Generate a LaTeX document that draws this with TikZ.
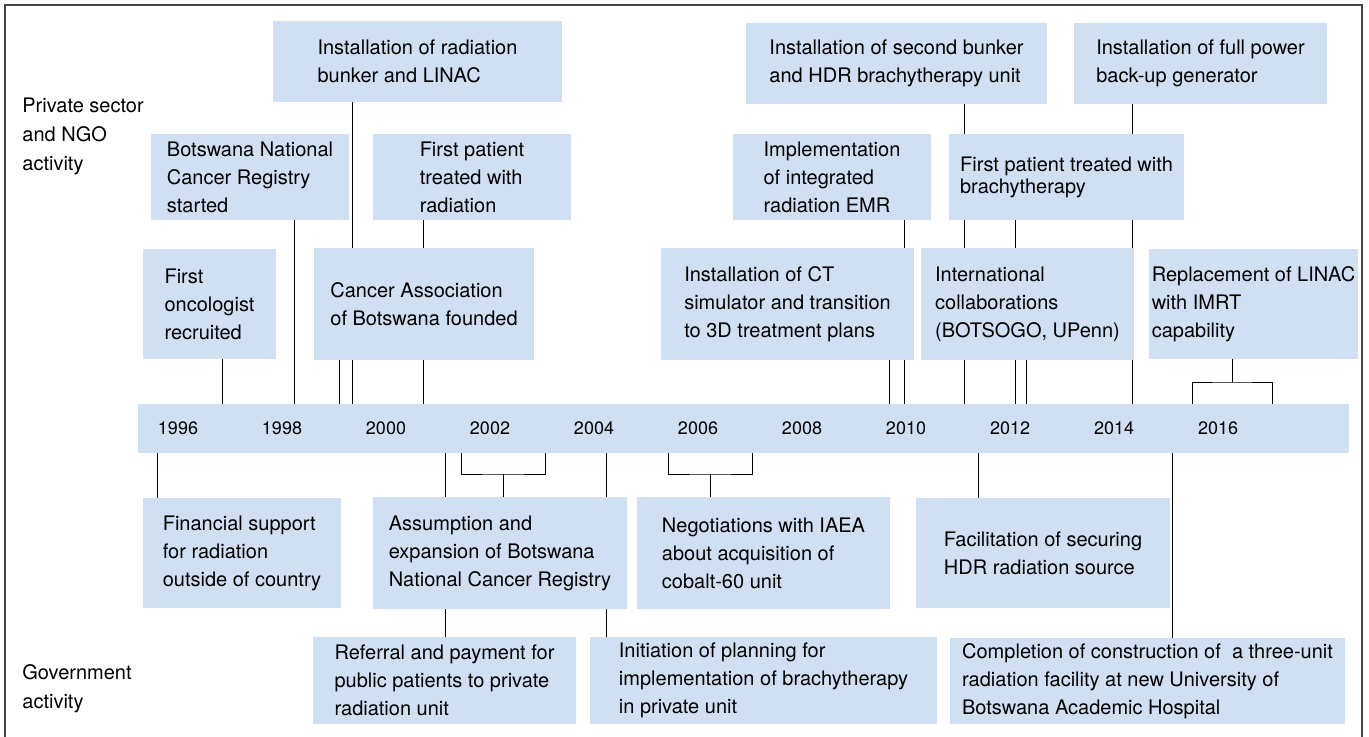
\documentclass[tikz,border=0pt]{standalone}
\usepackage{fontspec}
\setmainfont{TeX Gyre Heros}
\usetikzlibrary{backgrounds}
\definecolor{tlblue}{HTML}{D0DFF1}
\definecolor{tlframe}{HTML}{444444}

\begin{document}
\begin{tikzpicture}[x=0.5pt,y=-0.5pt,
  evt/.style={fill=tlblue,inner sep=0pt,align=left,font=\fontsize{10}{14}\selectfont},
  yrlbl/.style={inner sep=0pt,font=\fontsize{9}{11}\selectfont},
  sidelbl/.style={anchor=west,inner sep=0pt,align=left,font=\fontsize{10}{14.5}\selectfont},
  tick/.style={line width=1.5pt}]
  \useasboundingbox (0,0) rectangle (1369,737);
  \draw[tlframe,line width=0.8pt] (5,737) -- (5,5) -- (1362,5) -- (1362,737);

  \node[sidelbl] (priv) at (22,136) {Private sector\\and NGO\\activity};
  \node[sidelbl] (gov) at (22,688.5) {Government\\activity};

  \node[evt,minimum width=144.5pt,minimum height=40.5pt] (bunker) at (417.5,61.5) {Installation of radiation\\bunker and LINAC};
  \node[evt,minimum width=150.5pt,minimum height=40.5pt] (second) at (896.5,63.5) {Installation of second bunker\\and HDR brachytherapy unit};
  \node[evt,minimum width=126.5pt,minimum height=40.5pt] (power) at (1200.5,63.5) {Installation of full power\\back-up generator};

  \node[evt,minimum width=99pt,minimum height=43pt] (reg) at (250,177) {Botswana National\\Cancer Registry\\started};
  \node[evt,minimum width=99pt,minimum height=43pt] (firstrad) at (472,177) {First patient\\treated with\\radiation};
  \node[evt,minimum width=99pt,minimum height=43pt] (emr) at (832,177) {Implementation\\of integrated\\radiation EMR};
  \node[evt,minimum width=117.5pt,minimum height=43pt,font=\fontsize{10}{11}\selectfont] (brachy) at (1066.5,177) {First patient treated with\\brachytherapy};

  \node[evt,minimum width=66.5pt,minimum height=55pt] (onc) at (209.5,304) {First\\oncologist\\recruited};
  \node[evt,minimum width=110pt,minimum height=56pt] (cab) at (424,304) {Cancer Association\\of Botswana founded};
  \node[evt,minimum width=126.5pt,minimum height=56pt] (ct) at (787.5,304) {Installation of CT\\simulator and transition\\to 3D treatment plans};
  \node[evt,minimum width=106.5pt,minimum height=56pt] (intl) at (1027.5,304) {International\\collaborations\\(BOTSOGO, UPenn)};
  \node[evt,minimum width=104.5pt,minimum height=55pt] (linac) at (1253.5,304) {Replacement of LINAC\\with IMRT\\capability};

  \node[fill=tlblue,inner sep=0pt,minimum width=605.5pt,minimum height=24.5pt] (bar) at (743.5,428.5) {};
  \foreach \yr [count=\i from 0] in {1996,1998,...,2016}
    \node[yrlbl] (y\yr) at (178+104*\i,428) {\yr};

  \node[evt,minimum width=99pt,minimum height=55pt] (fin) at (242,553) {Financial support\\for radiation\\outside of country};
  \node[evt,minimum width=127pt,minimum height=56pt] (assump) at (500,553) {Assumption and\\expansion of Botswana\\National Cancer Registry};
  \node[evt,minimum width=126.5pt,minimum height=56pt] (nego) at (763.5,553) {Negotiations with IAEA\\about acquisition of\\cobalt-60 unit};
  \node[evt,minimum width=127pt,minimum height=55pt] (fac) at (1043,553) {Facilitation of securing\\HDR radiation source};

  \node[evt,minimum width=131.5pt,minimum height=43.5pt] (ref) at (444.5,680.5) {Referral and payment for\\public patients to private\\radiation unit};
  \node[evt,minimum width=173.5pt,minimum height=43.5pt] (ini) at (763.5,680.5) {Initiation of planning for\\implementation of brachytherapy\\in private unit};
  \node[evt,minimum width=197.5pt,minimum height=43pt] (com) at (1147.5,681) {Completion of construction of\ \ a three-unit\\radiation facility at new University of\\Botswana Academic Hospital};

  \coordinate (kOnc) at (222,404);
  \coordinate (kReg) at (294,404);
  \coordinate (kCab) at (339,404);
  \coordinate (kBunk) at (352,404);
  \coordinate (kRad) at (423,404);
  \coordinate (kCt) at (889,404);
  \coordinate (kEmr) at (904,404);
  \coordinate (kSec) at (964,404);
  \coordinate (kBra) at (1015,404);
  \coordinate (kIntl) at (1026,404);
  \coordinate (kPow) at (1132,404);
  \coordinate (kLa) at (1192,404);
  \coordinate (kLb) at (1272,404);
  \coordinate (kLs) at (1232,382);

  \coordinate (kFin) at (157,453);
  \coordinate (kRef) at (445,453);
  \coordinate (kIni) at (606,453);
  \coordinate (kFac) at (978,453);
  \coordinate (kCom) at (1172,453);
  \coordinate (kAa) at (461,453);
  \coordinate (kAb) at (545,453);
  \coordinate (kAs) at (503,474);
  \coordinate (kNa) at (668,453);
  \coordinate (kNb) at (752,453);
  \coordinate (kNs) at (710,474);

  \begin{scope}[on background layer,tick]
    \draw (kOnc) -- (kOnc |- onc.south);
    \draw (kReg) -- (kReg |- reg.south);
    \draw (kCab) -- (kCab |- cab.south);
    \draw (kBunk) -- (kBunk |- bunker.south);
    \draw (kRad) -- (kRad |- firstrad.south);
    \draw (kCt) -- (kCt |- ct.south);
    \draw (kEmr) -- (kEmr |- emr.south);
    \draw (kSec) -- (kSec |- second.south);
    \draw (kBra) -- (kBra |- brachy.south);
    \draw (kIntl) -- (kIntl |- intl.south);
    \draw (kPow) -- (kPow |- power.south);
    \draw (kLs |- linac.south) -- (kLs);
    \draw (kLa) |- (kLs) -| (kLb);

    \draw (kFin) -- (kFin |- fin.north);
    \draw (kRef) -- (kRef |- ref.north);
    \draw (kIni) -- (kIni |- ini.north);
    \draw (kFac) -- (kFac |- fac.north);
    \draw (kCom) -- (kCom |- com.north);
    \draw (kAa) |- (kAs) -| (kAb);
    \draw (kAs) -- (kAs |- assump.north);
    \draw (kNa) |- (kNs) -| (kNb);
    \draw (kNs) -- (kNs |- nego.north);
  \end{scope}
\end{tikzpicture}
\end{document}
